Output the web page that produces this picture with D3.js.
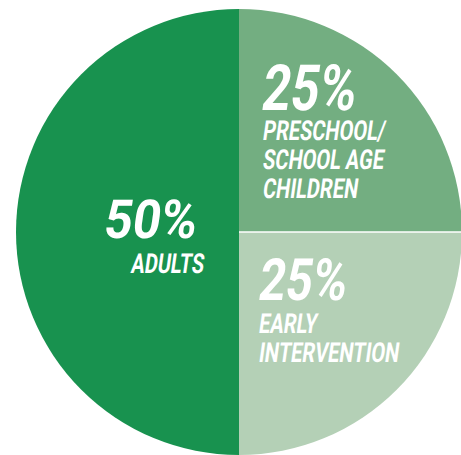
<!DOCTYPE html>
<html>
<head>
<meta charset="utf-8">
<script src="https://d3js.org/d3.v7.min.js"></script>
<style>
  body { margin: 0; background: #fff; }
  .lbl { font-family: Roboto, sans-serif; font-weight: 700; fill: #fff; }
</style>
</head>
<body>
<script>
// slice data, clockwise from 12 o'clock
var categories = ["PRESCHOOL/ SCHOOL AGE CHILDREN", "EARLY INTERVENTION", "ADULTS"];
var values = [25, 25, 50];
var pctLabels = ["25%", "25%", "50%"];
var nameLines = [["PRESCHOOL/", "SCHOOL AGE", "CHILDREN"], ["EARLY", "INTERVENTION"], ["ADULTS"]];
var colors = ["#73ae81", "#b4d0b6", "#18924f"];

var width = 461, height = 455;
var cx = 239, cy = 232, radius = 223;

var svg = d3.select("body").append("svg")
  .attr("width", width)
  .attr("height", height);

var g = svg.append("g").attr("transform", "translate(" + cx + "," + cy + ")");

var pie = d3.pie().sort(null).value(function(d) { return d; });
var arcs = pie(values);
var arc = d3.arc().innerRadius(0).outerRadius(radius);

g.selectAll("path.slice")
  .data(arcs)
  .enter().append("path")
  .attr("class", "slice")
  .attr("d", arc)
  .attr("fill", function(d, i) { return colors[i]; });

// thin white divider between the two light slices
var a = arcs[0].endAngle;
g.append("line")
  .attr("x1", 0).attr("y1", 0)
  .attr("x2", Math.sin(a) * (radius + 2))
  .attr("y2", -Math.cos(a) * (radius + 2))
  .attr("stroke", "#fff")
  .attr("stroke-width", 1.5);

// label layout per slice (relative to pie centre)
var layout = [
  {x: 21, xs: 23, y: -122, big: 58, bigScale: 0.86, small: 25, ys: -92, gap: 29, anchor: "start"},
  {x: 18, xs: 19, y: 68, big: 53, bigScale: 0.88, small: 25, ys: 101, gap: 29, anchor: "start"},
  {x: -44, xs: -36, y: 6, big: 49, bigScale: 1.0, small: 25, ys: 41, gap: 29, anchor: "end"}
];

function place(sel, x, y, anchor, sx, sy) {
  sel.attr("text-anchor", anchor)
    .attr("transform", "translate(" + x + "," + y + ") skewX(-8) scale(" + sx + "," + sy + ")");
}

arcs.forEach(function(d, i) {
  var L = layout[i];
  var t = g.append("text").attr("class", "lbl")
    .style("font-size", L.big + "px")
    .text(pctLabels[i]);
  place(t, L.x, L.y, L.anchor, L.bigScale, 1.1);
  nameLines[i].forEach(function(line, j) {
    var s = g.append("text").attr("class", "lbl")
      .style("font-size", L.small + "px")
      .text(line);
    place(s, L.xs, L.ys + j * L.gap, L.anchor, 0.8, 1.1);
  });
});
</script>
</body>
</html>
